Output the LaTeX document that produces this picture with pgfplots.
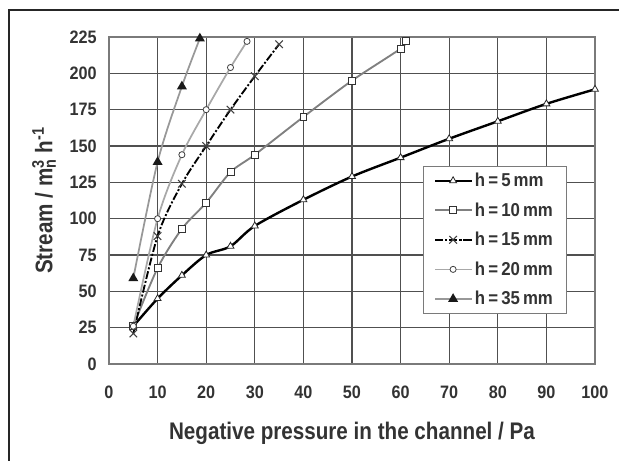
\documentclass[border=0pt]{standalone}
\usepackage{fontspec}
\setmainfont{Liberation Sans}
\newfontfamily\labfont[FakeStretch=0.86]{Liberation Sans}
\newfontfamily\tickfont[FakeStretch=0.9]{Liberation Sans}
\usepackage{pgfplots}
\pgfplotsset{compat=1.18}
\definecolor{txt}{HTML}{333333}
\definecolor{gridc}{HTML}{505050}
\definecolor{boxc}{HTML}{7A7A7A}
\definecolor{g10}{HTML}{808080}
\definecolor{g20}{HTML}{A8A8A8}
\definecolor{g35}{HTML}{989898}
\begin{document}
\begin{tikzpicture}
\useasboundingbox (0,0) rectangle (464.25pt,345.75pt);
% outer frame of the figure (cut off at right and bottom)
\draw[black!85, line width=1.1pt] (6.75pt,-20pt) -- (6.75pt,338.25pt) -- (490pt,338.25pt);
\begin{axis}[
  at={(81.75pt,72.75pt)}, anchor=south west,
  scale only axis, width=364.5pt, height=245.25pt,
  xmin=0, xmax=100, ymin=0, ymax=225,
  xtick={0,10,...,100}, ytick={0,25,...,225},
  grid=major,
  major grid style={gridc, line width=0.9pt},
  axis line style={boxc, line width=1pt},
  major tick length=0pt,
  clip=false,
  /pgf/number format/assume math mode=true,
  tick label style={font=\tickfont\bfseries\fontsize{13.5}{13.5}\selectfont, text=txt},
  xticklabel style={anchor=center, yshift=-21pt},
  yticklabel style={anchor=east, inner sep=0pt, xshift=-9pt},
  xlabel={Negative pressure in the channel / Pa},
  xlabel style={at={(axis description cs:0.5,-0.211)}, anchor=center,
    font=\labfont\bfseries\fontsize{18}{18}\selectfont, text=txt},
  ylabel={Stream / m\makebox[0pt][l]{\textsuperscript{3}}\textsubscript{n} h\textsuperscript{-1}},
  ylabel style={at={(axis description cs:-0.1337,0.5)}, anchor=center,
    font=\labfont\bfseries\fontsize{18}{18}\selectfont, text=txt},
  legend cell align=left,
  legend style={at={(0.942,0.606)}, anchor=north east,
    draw=boxc, line width=0.8pt, fill=white,
    font=\tickfont\bfseries\fontsize{14}{14}\selectfont, text=txt,
    inner xsep=8pt, inner ysep=3pt, row sep=6.5pt,
    /tikz/every even column/.append style={column sep=6pt}},
  legend image code/.code={\draw[mark repeat=2,mark phase=2,#1]
    plot coordinates {(0pt,0pt)(13.5pt,0pt)(27pt,0pt)};},
]
\addplot[black, line width=1.8pt, smooth,
  mark=triangle*, mark size=3pt,
  mark options={solid, fill=white, draw=black!85, line width=0.6pt}]
  coordinates {(5,26) (10,45) (15,61) (20,75) (25,81) (30,95) (40,113)
    (50,129) (60,142) (70,155) (80,167) (90,179) (100,189)};
\addlegendentry{h\,=\,5\,mm}
\addplot[g10, line width=1.4pt, smooth,
  mark=square*, mark size=2.6pt,
  mark options={solid, fill=white, draw=black!80, line width=0.6pt}]
  coordinates {(5,26) (10,66) (15,93) (20,111) (25,132) (30,144) (40,170)
    (50,195) (60,217) (61,222)};
\addlegendentry{h\,=\,10\,mm}
\addplot[black, line width=1.4pt, smooth,
  dash pattern=on 6pt off 1.5pt on 1.5pt off 1.5pt,
  mark=x, mark size=4pt,
  mark options={solid, draw=black!75, line width=0.8pt}]
  coordinates {(5,21) (10,88) (15,124) (20,150) (25,175) (30,198) (35,220)};
\addlegendentry{h\,=\,15\,mm}
\addplot[g20, line width=1.3pt, smooth,
  mark=*, mark size=2.3pt,
  mark options={solid, fill=white, draw=black!75, line width=0.6pt}]
  coordinates {(5,26) (10,100) (15,144) (20,175) (25,204) (28.4,222)};
\addlegendentry{h\,=\,20\,mm}
\addplot[g35, line width=1.3pt, smooth,
  mark=triangle*, mark size=3pt,
  mark options={solid, fill=black!90, draw=black!90}]
  coordinates {(5,59) (10,139) (15,191) (18.7,224)};
\addlegendentry{h\,=\,35\,mm}
\end{axis}
\end{tikzpicture}
\end{document}
